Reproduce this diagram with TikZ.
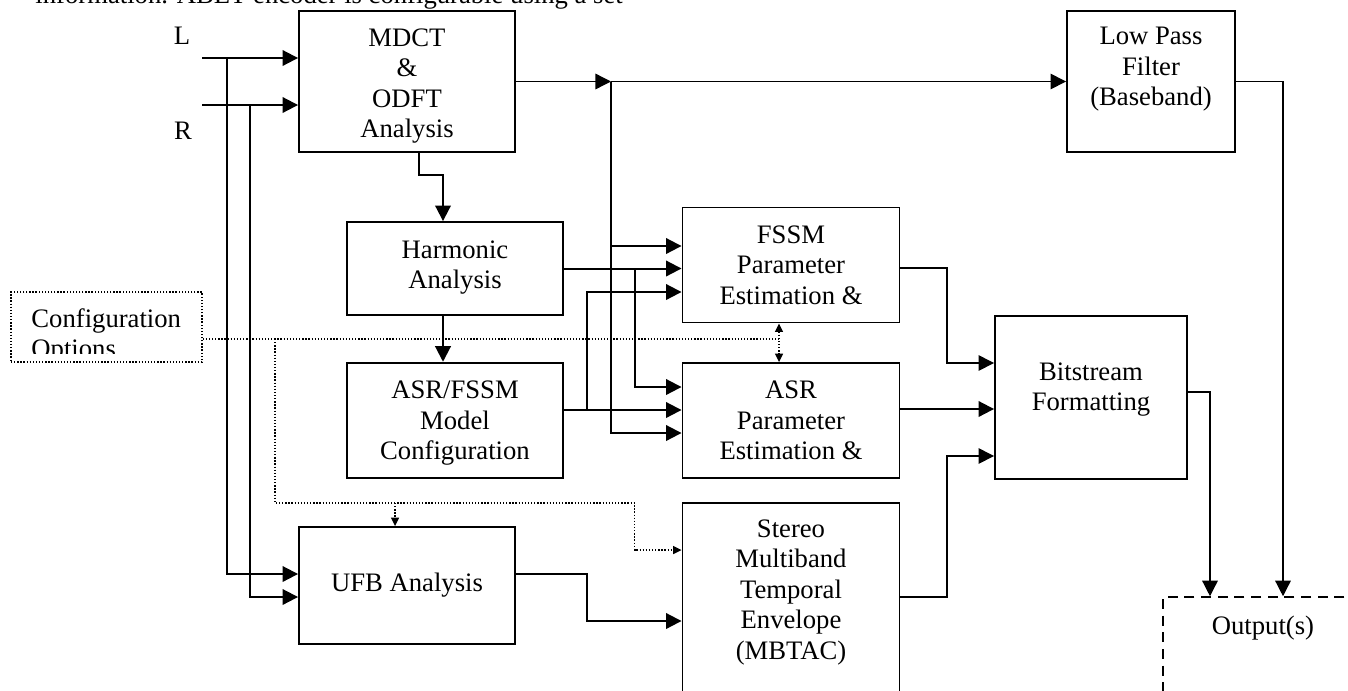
\documentclass[tikz,border=0pt]{standalone}
\usepackage{fontspec}
\setmainfont{Liberation Serif}
\usetikzlibrary{arrows.meta}

\begin{document}
\begin{tikzpicture}[x=0.45pt,y=-0.45pt,>={Triangle[length=7pt,width=7pt]},
    every node/.style={font=\fontsize{12}{13.7}\selectfont},
    block/.style={draw,line width=0.85pt,align=center,inner sep=0pt},
    wire/.style={line width=0.9pt},
    thinwire/.style={line width=0.6pt},
    cfgline/.style={line width=0.6pt,dash pattern=on 0.6pt off 0.8pt,>={Triangle[length=3.8pt,width=3.6pt]}}]
    \useasboundingbox (0,0) rectangle (1348,690);
    \clip (0,0) rectangle (1348,690);

    % cut-off line of running text above the figure
    \node[anchor=base west,inner sep=0pt] (intro) at (35,3) {information. ABET encoder is configurable using a set};

    % inputs
    \node[anchor=base,inner sep=0pt] (lblL) at (182,44) {L};
    \node[anchor=base,inner sep=0pt] (lblR) at (183,139) {R};
    \coordinate (inL) at (202,58);
    \coordinate (inR) at (202,105);

    % blocks
    \node[block,minimum width=97.2pt,minimum height=63.45pt] (mdct) at (407,81.5) {\rule{0pt}{12pt}MDCT\\\&\\ODFT\\Analysis};
    \node[block,minimum width=75.6pt,minimum height=63.45pt] (lpf) at (1151,81.5) {Low Pass\\Filter\\(Baseband)\\~};
    \node[block,minimum width=97.2pt,minimum height=41.85pt] (harm) at (455,268.5) {\rule{0pt}{10pt}Harmonic\\Analysis\\[-8pt]~};
    \node[block,minimum width=97.2pt,minimum height=51.75pt] (cfgmodel) at (455,420.2) {\rule{0pt}{10.8pt}ASR/FSSM\\Model\\Configuration};
    \node[block,minimum width=97.65pt,minimum height=51.75pt] (fssm) at (791,265) {FSSM\\Parameter\\Estimation \&};
    \node[block,minimum width=97.65pt,minimum height=51.75pt] (asr) at (791,420.5) {ASR\\Parameter\\Estimation \&};
    \node[block,minimum width=86.4pt,minimum height=73.35pt] (bits) at (1091,397.5) {Bitstream\\Formatting\\[-4pt]~};
    \node[block,minimum width=97.2pt,minimum height=52.65pt] (ufb) at (407,585.5) {UFB Analysis};
    \node[block,minimum width=97.65pt,minimum height=105.3pt] (stereo) at (791,620) {Stereo\\Multiband\\Temporal\\Envelope\\(MBTAC)\\~\\~};
    \node[block,dash pattern=on 4.5pt off 3pt,line width=0.7pt,minimum width=90pt,minimum height=66.6pt] (out) at (1263,671) {Output(s)\\~\\~\\~};

    % configuration options, text cut by its frame
    \node[draw,line width=0.6pt,dash pattern=on 0.6pt off 0.8pt,minimum width=85.95pt,minimum height=31.5pt] (cfg) at (106.5,327) {};
    \begin{scope}
      \clip (11,292) rectangle (202,353);
      \node[anchor=north west,align=left,inner sep=0pt] (cfgtext) at (31,308) {Configuration\\Options};
    \end{scope}

    % signal paths
    \draw[wire,->] (inL) -- (mdct.west |- inL);
    \draw[wire,->] (inR) -- (mdct.west |- inR);
    \draw[wire,->] (inL -| 227,0) |- (ufb.west |- 0,574);
    \draw[wire,->] (inR -| 250,0) |- (ufb.west |- 0,597);
    \draw[wire,->] (mdct.south -| 419,0) -- ++(0,22.5) -| (harm.north -| 443,0);
    \draw[wire,->] (harm.south -| 443,0) -- (cfgmodel.north -| 443,0);

    \coordinate (tap) at (611,81.5);
    \draw[thinwire,->] (mdct.east) -- (tap);
    \draw[thinwire,->] (tap) -- (lpf.west);
    \draw[wire,->] (tap) |- (asr.west |- 0,433);
    \draw[wire,->] (tap |- 0,246) -- (fssm.west |- 0,246);

    \draw[wire,->] (harm.east) -- (fssm.west |- harm.east);
    \draw[wire,->] (harm.east -| 635,0) |- (asr.west |- 0,387);
    \draw[wire,->] (cfgmodel.east |- 0,410) -- (asr.west |- 0,410);
    \draw[wire,->] (587,410) |- (fssm.west |- 0,292);

    \draw[thinwire,->] (fssm.east |- 0,268) -- (947,268) |- (bits.west |- 0,363);
    \draw[wire,->] (asr.east |- 0,409) -- (bits.west |- 0,409);
    \draw[thinwire,->] (stereo.east |- 0,597) -- (947,597) |- (bits.west |- 0,456);
    \draw[wire,->] (ufb.east |- 0,574) -- (587,574) |- (stereo.west |- 0,621);

    \draw[thinwire,->] (bits.east |- 0,392) -| (out.north -| 1210,0);
    \draw[thinwire,->] (lpf.east) -| (out.north -| 1283,0);

    % configuration paths
    \draw[cfgline] (cfg.east |- 0,339) -- (779,339);
    \draw[cfgline,<->] (fssm.south -| 779,0) -- (asr.north -| 779,0);
    \draw[cfgline,->] (275,339) |- (634.6,503) |- (stereo.west |- 0,550);
    \draw[cfgline,->] (395,503) -- (ufb.north -| 395,0);
\end{tikzpicture}
\end{document}
